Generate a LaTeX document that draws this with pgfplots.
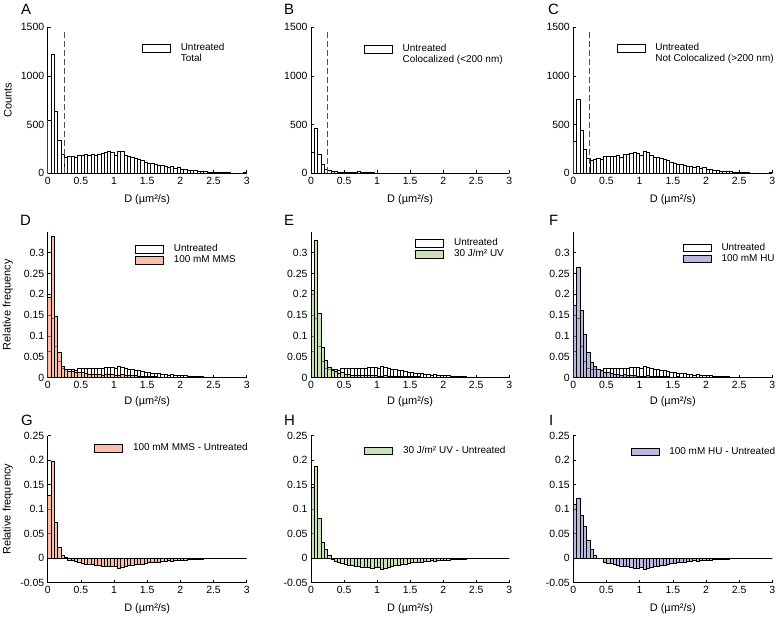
\documentclass[border=0pt]{standalone}
\usepackage{pgfplots}
\pgfplotsset{compat=1.18}
\usepackage{pgfplotstable}
\usepackage{fontspec}
\setmainfont{Liberation Sans}

\definecolor{mmscol}{RGB}{247,147,113}
\definecolor{uvcol}{RGB}{172,205,138}
\definecolor{hucol}{RGB}{138,138,205}
\definecolor{dashcol}{RGB}{80,80,80}

\pgfplotstableread{
x    cA   cB  cC   U      MMS    UV     HU     dM      dV      dH
0.00 550  216 334  0.0637 0.1917 0.2087 0.1747 0.128   0.145   0.111
0.05 1225 463 762  0.1418 0.3388 0.3298 0.2638 0.197   0.188   0.122
0.10 641  200 441  0.0742 0.1472 0.1552 0.1612 0.073   0.081   0.087
0.15 340  96  244  0.0394 0.0614 0.0724 0.1044 0.022   0.033   0.065
0.20 200  41  159  0.0232 0.0282 0.0412 0.0602 0.005   0.018   0.037
0.25 165  27  138  0.0191 0.0201 0.0241 0.0381 0.001   0.005   0.019
0.30 170  22  148  0.0197 0.0147 0.0167 0.0267 -0.005  -0.003  0.007
0.35 175  18  157  0.0203 0.0153 0.0143 0.0203 -0.005  -0.006  0.000
0.40 160  15  145  0.0185 0.0125 0.0105 0.0185 -0.006  -0.008  0.000
0.45 190  14  176  0.0220 0.0140 0.0120 0.0140 -0.008  -0.010  -0.008
0.50 190  13  177  0.0220 0.0120 0.0090 0.0120 -0.010  -0.013  -0.010
0.55 192  12  180  0.0222 0.0102 0.0082 0.0112 -0.012  -0.014  -0.011
0.60 190  12  178  0.0220 0.0090 0.0070 0.0090 -0.013  -0.015  -0.013
0.65 192  11  181  0.0222 0.0092 0.0062 0.0082 -0.013  -0.016  -0.014
0.70 188  20  168  0.0218 0.0078 0.0048 0.0048 -0.014  -0.017  -0.017
0.75 200  8   192  0.0232 0.0082 0.0052 0.0072 -0.015  -0.018  -0.016
0.80 205  7   198  0.0237 0.0067 0.0047 0.0067 -0.017  -0.019  -0.017
0.85 215  6   209  0.0249 0.0089 0.0059 0.0059 -0.016  -0.019  -0.019
0.90 222  6   216  0.0257 0.0087 0.0057 0.0057 -0.017  -0.020  -0.020
0.95 212  5   207  0.0245 0.0075 0.0055 0.0045 -0.017  -0.019  -0.020
1.00 190  5   185  0.0220 0.0060 0.0040 0.0030 -0.016  -0.018  -0.019
1.05 230  5   225  0.0266 0.0066 0.0046 0.0036 -0.020  -0.022  -0.023
1.10 222  4   218  0.0257 0.0077 0.0057 0.0057 -0.018  -0.020  -0.020
1.15 190  4   186  0.0220 0.0060 0.0040 0.0040 -0.016  -0.018  -0.018
1.20 172  4   168  0.0199 0.0049 0.0039 0.0029 -0.015  -0.016  -0.017
1.25 165  3   162  0.0191 0.0051 0.0041 0.0031 -0.014  -0.015  -0.016
1.30 155  3   152  0.0179 0.0049 0.0039 0.0029 -0.013  -0.014  -0.015
1.35 148  3   145  0.0171 0.0041 0.0041 0.0031 -0.013  -0.013  -0.014
1.40 137  3   134  0.0159 0.0039 0.0039 0.0029 -0.012  -0.012  -0.013
1.45 113  2   111  0.0131 0.0031 0.0031 0.0021 -0.010  -0.010  -0.011
1.50 103  2   101  0.0119 0.0029 0.0029 0.0019 -0.009  -0.009  -0.010
1.55 100  2   98   0.0116 0.0026 0.0026 0.0026 -0.009  -0.009  -0.009
1.60 93   2   91   0.0108 0.0028 0.0028 0.0018 -0.008  -0.008  -0.009
1.65 86   2   84   0.0100 0.0020 0.0020 0.0020 -0.008  -0.008  -0.008
1.70 79   2   77   0.0091 0.0021 0.0021 0.0021 -0.007  -0.007  -0.007
1.75 69   1   68   0.0080 0.0020 0.0020 0.0020 -0.006  -0.006  -0.006
1.80 58   1   57   0.0067 0.0017 0.0017 0.0017 -0.005  -0.005  -0.005
1.85 69   1   68   0.0080 0.0020 0.0020 0.0020 -0.006  -0.006  -0.006
1.90 51   1   50   0.0059 0.0009 0.0009 0.0009 -0.005  -0.005  -0.005
1.95 58   1   57   0.0067 0.0017 0.0017 0.0017 -0.005  -0.005  -0.005
2.00 41   1   40   0.0047 0.0007 0.0007 0.0007 -0.004  -0.004  -0.004
2.05 45   1   44   0.0052 0.0012 0.0012 0.0012 -0.004  -0.004  -0.004
2.10 34   1   33   0.0039 0.0009 0.0009 0.0009 -0.003  -0.003  -0.003
2.15 31   1   30   0.0036 0.0006 0.0006 0.0006 -0.003  -0.003  -0.003
2.20 27   1   26   0.0031 0.0011 0.0011 0.0011 -0.002  -0.002  -0.002
2.25 24   1   23   0.0028 0.0008 0.0008 0.0008 -0.002  -0.002  -0.002
2.30 21   1   20   0.0024 0.0004 0.0004 0.0004 -0.002  -0.002  -0.002
2.35 17   1   16   0.0020 0.0010 0.0010 0.0010 -0.001  -0.001  -0.001
2.40 14   1   13   0.0016 0.0006 0.0006 0.0006 -0.001  -0.001  -0.001
2.45 14   1   13   0.0016 0.0006 0.0006 0.0006 -0.001  -0.001  -0.001
2.50 10   1   9    0.0012 0.0002 0.0002 0.0002 -0.0010 -0.0010 -0.0010
2.55 8    1   7    0.0009 0.0002 0.0002 0.0002 -0.0007 -0.0007 -0.0007
2.60 8    1   7    0.0009 0.0002 0.0002 0.0002 -0.0007 -0.0007 -0.0007
2.65 6    1   5    0.0007 0.0002 0.0002 0.0002 -0.0005 -0.0005 -0.0005
2.70 6    1   5    0.0007 0.0002 0.0002 0.0002 -0.0005 -0.0005 -0.0005
2.75 5    1   4    0.0006 0.0002 0.0002 0.0002 -0.0004 -0.0004 -0.0004
2.80 4    1   3    0.0005 0.0002 0.0002 0.0002 -0.0003 -0.0003 -0.0003
2.85 3    0   3    0.0003 0.0001 0.0001 0.0001 -0.0002 -0.0002 -0.0002
2.90 3    0   3    0.0003 0.0001 0.0001 0.0001 -0.0002 -0.0002 -0.0002
2.95 8    1   7    0.0009 0.0003 0.0003 0.0003 -0.0006 -0.0006 -0.0006
3.00 0    0   0    0      0      0      0      0       0       0
}\hist

\pgfplotsset{
  hleg/.style={legend image code/.code={
      \draw[##1] (0bp,-3.8bp) rectangle (28bp,3.8bp);
      \path[draw=none,fill=none] (0bp,0bp) coordinate (hl1) (38bp,0bp) coordinate (hl2);}},
  whitebars/.style={ybar interval, fill=white, draw=black, line width=0.5bp, hleg},
  colbars/.style={ybar interval, fill=#1, fill opacity=0.6, draw=black, line width=0.5bp, hleg},
  panel/.style={
    scale only axis, width=199bp, height=146bp,
    axis lines*=left, tick align=inside, major tick length=3bp,
    axis line style={black, line width=0.6bp},
    every tick/.style={black, line width=0.6bp},
    xmin=0, xmax=3, xtick={0,0.5,1,1.5,2,2.5,3},
    xlabel={D (µm²/s)},
    xlabel style={at={(axis description cs:0.5,-0.18)}, anchor=center,
      font=\fontsize{11}{13}\selectfont},
    ylabel style={at={(axis description cs:-0.2,0.5)}, anchor=center,
      font=\fontsize{11}{13}\selectfont},
    tick label style={font=\fontsize{10.5}{12}\selectfont},
    /pgf/number format/assume math mode=true,
    /pgf/number format/1000 sep={},
    scaled ticks=false,
    legend cell align=left,
    legend style={draw=none, fill=none, inner sep=0pt, outer sep=0pt,
      font=\fontsize{10}{12}\selectfont, row sep=0pt, anchor=north west,
      nodes={inner sep=0.5bp, text height=7.5bp, text depth=2.5bp}},
  },
  row1/.style={panel, ymin=0, ymax=1500, ytick={0,500,1000,1500}},
  row2/.style={panel, ymin=0, ymax=0.35, ytick={0,0.05,0.1,0.15,0.2,0.25,0.3},
    yticklabel style={/pgf/number format/fixed, /pgf/number format/precision=2},
    xlabel style={at={(axis description cs:0.5,-0.165)}}},
  row3/.style={panel, height=147bp, ymin=-0.05, ymax=0.25,
    ytick={-0.05,0,0.05,0.1,0.15,0.2,0.25},
    yticklabel style={/pgf/number format/fixed, /pgf/number format/precision=2}},
}

\begin{document}
\begin{tikzpicture}
\useasboundingbox (0bp,0bp) rectangle (779bp,617bp);

% ---------- Row 1 ----------
\begin{axis}[row1, at={(47.7bp,443.7bp)}, anchor=south west, ylabel={Counts},
  legend style={at={(0.474,0.896)}}]
\addplot[whitebars] table[x=x,y=cA]{\hist};
\addlegendentry{Untreated}
\addlegendimage{empty legend}
\addlegendentry{Total}
\addplot[forget plot, dashcol, line width=0.8bp, dash pattern=on 6bp off 3bp] coordinates {(0.25,0) (0.25,1460)};
\end{axis}

\begin{axis}[row1, at={(311bp,443.7bp)}, anchor=south west, width=198.3bp,
  legend style={at={(0.267,0.889)}}]
\addplot[whitebars] table[x=x,y=cB]{\hist};
\addlegendentry{Untreated}
\addlegendimage{empty legend}
\addlegendentry{Colocalized (<200 nm)}
\addplot[forget plot, dashcol, line width=0.8bp, dash pattern=on 6bp off 3bp] coordinates {(0.25,0) (0.25,1460)};
\end{axis}

\begin{axis}[row1, at={(573.3bp,443.7bp)}, anchor=south west,
  legend style={at={(0.218,0.896)}}]
\addplot[whitebars] table[x=x,y=cC]{\hist};
\addlegendentry{Untreated}
\addlegendimage{empty legend}
\addlegendentry{Not Colocalized (>200 nm)}
\addplot[forget plot, dashcol, line width=0.8bp, dash pattern=on 6bp off 3bp] coordinates {(0.25,0) (0.25,1460)};
\end{axis}

% ---------- Row 2 ----------
\begin{axis}[row2, at={(47.7bp,239.3bp)}, anchor=south west, ylabel={Relative frequency},
  legend style={at={(0.439,0.917)}}]
\addplot[whitebars] table[x=x,y=U]{\hist};
\addlegendentry{Untreated}
\addplot[colbars=mmscol] table[x=x,y=MMS]{\hist};
\addlegendentry{100 mM MMS}
\end{axis}

\begin{axis}[row2, at={(311bp,239.3bp)}, anchor=south west, width=198.3bp,
  legend style={at={(0.526,0.958)}}]
\addplot[whitebars] table[x=x,y=U]{\hist};
\addlegendentry{Untreated}
\addplot[colbars=uvcol] table[x=x,y=UV]{\hist};
\addlegendentry{30 J/m² UV}
\end{axis}

\begin{axis}[row2, at={(573.3bp,239.3bp)}, anchor=south west,
  legend style={at={(0.55,0.928)}}]
\addplot[whitebars] table[x=x,y=U]{\hist};
\addlegendentry{Untreated}
\addplot[colbars=hucol] table[x=x,y=HU]{\hist};
\addlegendentry{100 mM HU}
\end{axis}

% ---------- Row 3 ----------
\begin{axis}[row3, at={(47.7bp,34.3bp)}, anchor=south west, ylabel={Relative frequency},
  legend style={at={(0.234,0.952)}}]
\addplot[colbars=mmscol] table[x=x,y=dM]{\hist};
\addlegendentry{100 mM MMS - Untreated}
\addplot[forget plot, black, line width=0.5bp] coordinates {(0,0) (3,0)};
\end{axis}

\begin{axis}[row3, at={(311bp,34.3bp)}, anchor=south west, width=198.3bp,
  legend style={at={(0.269,0.935)}}]
\addplot[colbars=uvcol] table[x=x,y=dV]{\hist};
\addlegendentry{30 J/m² UV - Untreated}
\addplot[forget plot, black, line width=0.5bp] coordinates {(0,0) (3,0)};
\end{axis}

\begin{axis}[row3, at={(573.3bp,34.3bp)}, anchor=south west,
  legend style={at={(0.288,0.927)}}]
\addplot[colbars=hucol] table[x=x,y=dH]{\hist};
\addlegendentry{100 mM HU - Untreated}
\addplot[forget plot, black, line width=0.5bp] coordinates {(0,0) (3,0)};
\end{axis}

% ---------- Panel letters ----------
\begin{scope}[every node/.style={anchor=base west, inner sep=0pt, font=\fontsize{15}{18}\selectfont}]
\node at (21bp,602bp) {A};
\node at (284bp,602bp) {B};
\node at (548bp,602bp) {C};
\node at (20bp,391bp) {D};
\node at (284bp,391bp) {E};
\node at (549bp,391bp) {F};
\node at (21bp,191bp) {G};
\node at (284bp,191bp) {H};
\node at (549bp,191bp) {I};
\end{scope}
\end{tikzpicture}
\end{document}
